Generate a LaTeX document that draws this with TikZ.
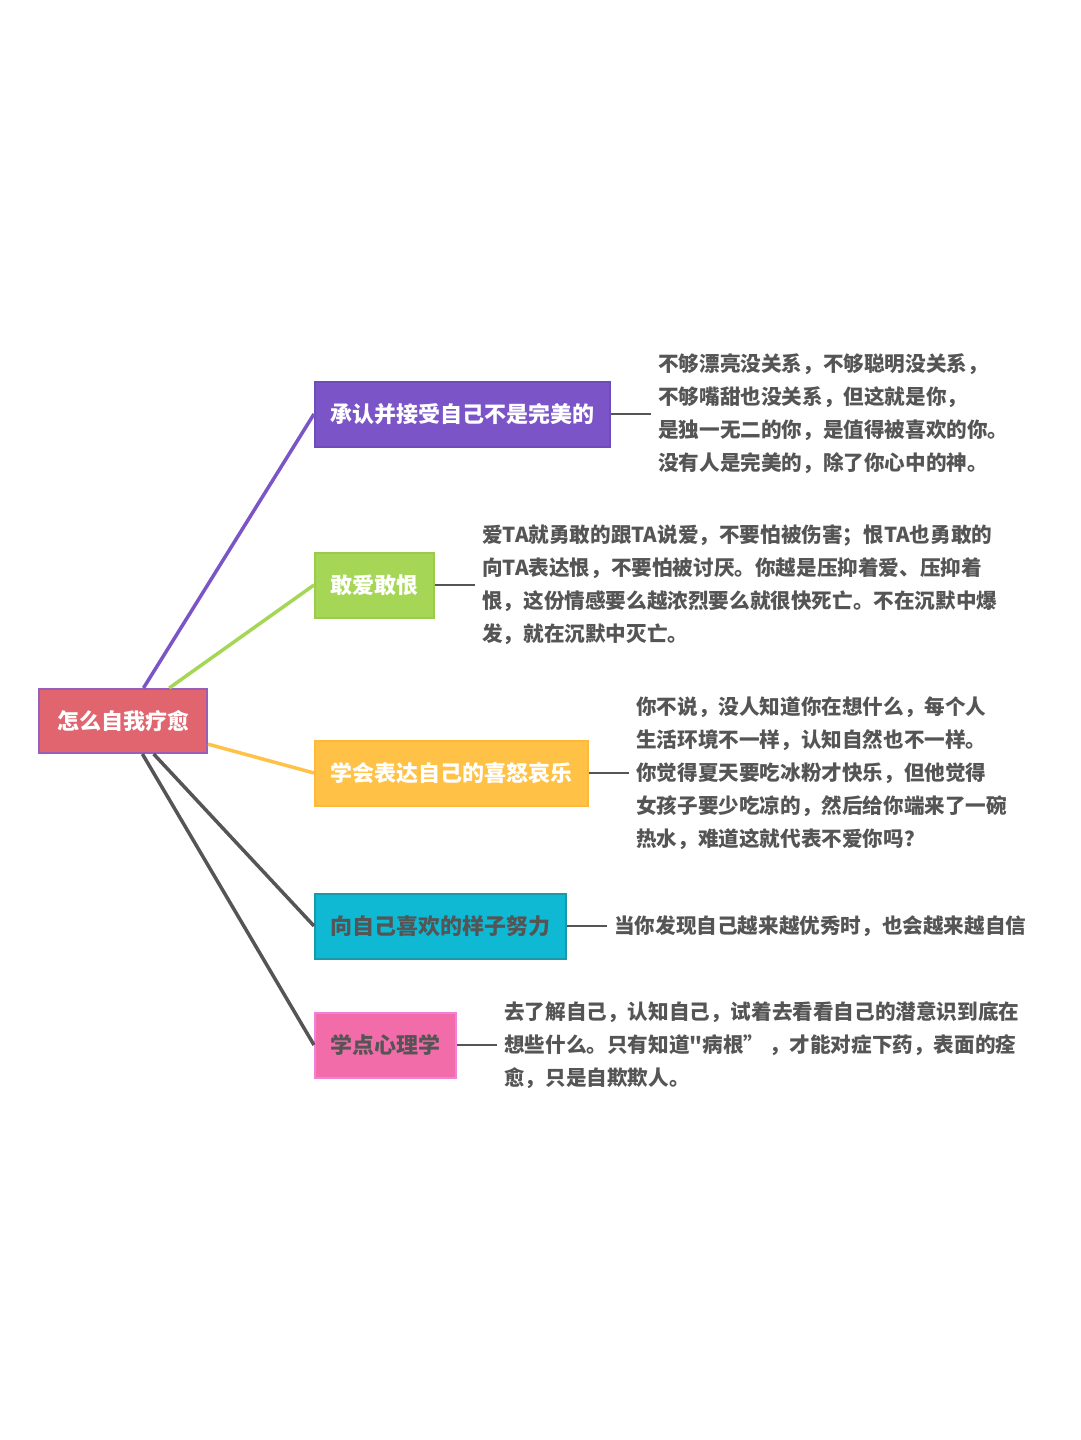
\documentclass[tikz,border=0pt]{standalone}
\usepackage{fontspec}
\setmainfont{Noto Sans CJK SC}[Ligatures=TeXOff]
\definecolor{rootfill}{HTML}{E0656E}
\definecolor{rootdraw}{HTML}{9A5DB8}
\definecolor{pfill}{HTML}{7B55C7}
\definecolor{pdraw}{HTML}{6F4CBB}
\definecolor{gfill}{HTML}{A6D656}
\definecolor{gdraw}{HTML}{9ACB4B}
\definecolor{ofill}{HTML}{FFC247}
\definecolor{odraw}{HTML}{FFB83A}
\definecolor{cfill}{HTML}{10B9D3}
\definecolor{cdraw}{HTML}{1A9AA8}
\definecolor{kfill}{HTML}{F36CAA}
\definecolor{kdraw}{HTML}{EE82D8}
\definecolor{txt}{HTML}{555555}
\definecolor{conn}{HTML}{555555}
\tikzset{
  topic/.style={anchor=west, inner xsep=15.5pt, inner ysep=0pt, minimum height=65pt,
    line width=2pt, font=\fontsize{22}{26}\selectfont\bfseries},
  roottopic/.style={inner xsep=18pt, inner ysep=0pt, minimum height=64pt,
    line width=2pt, fill=rootfill, draw=rootdraw, text=white,
    font=\fontsize{22}{26}\selectfont\bfseries},
  desc/.style={anchor=west, inner xsep=7pt, inner ysep=0pt, align=left, text=txt,
    font=\fontsize{20.6}{33}\selectfont\bfseries},
  branch/.style={line width=3.5pt},
  leafline/.style={line width=2.8pt, draw=conn},
}
\begin{document}
\begin{tikzpicture}[x=1pt,y=-1pt]
\fill[white] (0,0) rectangle (1080,1440);
\useasboundingbox (0,0) rectangle (1080,1440);

\node[roottopic] (root) at (123,721) {怎么自我疗愈};

\node[topic, fill=pfill, draw=pdraw, text=white] (b1) at (314,414) {承认并接受自己不是完美的};
\node[topic, fill=gfill, draw=gdraw, text=white] (b2) at (314,585) {敢爱敢恨};
\node[topic, fill=ofill, draw=odraw, text=white] (b3) at (314,773) {学会表达自己的喜怒哀乐};
\node[topic, fill=cfill, draw=cdraw, text=txt] (b4) at (314,926) {向自己喜欢的样子努力};
\node[topic, fill=kfill, draw=kdraw, text=txt] (b5) at (314,1045) {学点心理学};

\draw[branch, draw=pfill] (root) -- (b1.west);
\draw[branch, draw=gfill] (root) -- (b2.west);
\draw[branch, draw=ofill] (root) -- (b3.west);
\draw[branch, draw=conn] (root) -- (b4.west);
\draw[branch, draw=conn] (root) -- (b5.west);

\node[desc] (t1) at ([xshift=40pt]b1.east) {不够漂亮没关系，不够聪明没关系，\\不够嘴甜也没关系，但这就是你，\\是独一无二的你，是值得被喜欢的你。\\没有人是完美的，除了你心中的神。};
\node[desc] (t2) at ([xshift=40pt]b2.east) {爱TA就勇敢的跟TA说爱，不要怕被伤害；恨TA也勇敢的\\向TA表达恨，不要怕被讨厌。你越是压抑着爱、压抑着\\恨，这份情感要么越浓烈要么就很快死亡。不在沉默中爆\\发，就在沉默中灭亡。};
\node[desc] (t3) at ([xshift=40pt]b3.east) {你不说，没人知道你在想什么，每个人\\生活环境不一样，认知自然也不一样。\\你觉得夏天要吃冰粉才快乐，但他觉得\\女孩子要少吃凉的，然后给你端来了一碗\\热水，难道这就代表不爱你吗？};
\node[desc] (t4) at ([xshift=40pt]b4.east) {当你发现自己越来越优秀时，也会越来越自信};
\node[desc] (t5) at ([xshift=40pt]b5.east) {去了解自己，认知自己，试着去看看自己的潜意识到底在\\想些什么。只有知道"病根” ，才能对症下药，表面的痊\\愈，只是自欺欺人。};

\draw[leafline] (b1.east) -- (t1.west);
\draw[leafline] (b2.east) -- (t2.west);
\draw[leafline] (b3.east) -- (t3.west);
\draw[leafline] (b4.east) -- (t4.west);
\draw[leafline] (b5.east) -- (t5.west);
\end{tikzpicture}
\end{document}
